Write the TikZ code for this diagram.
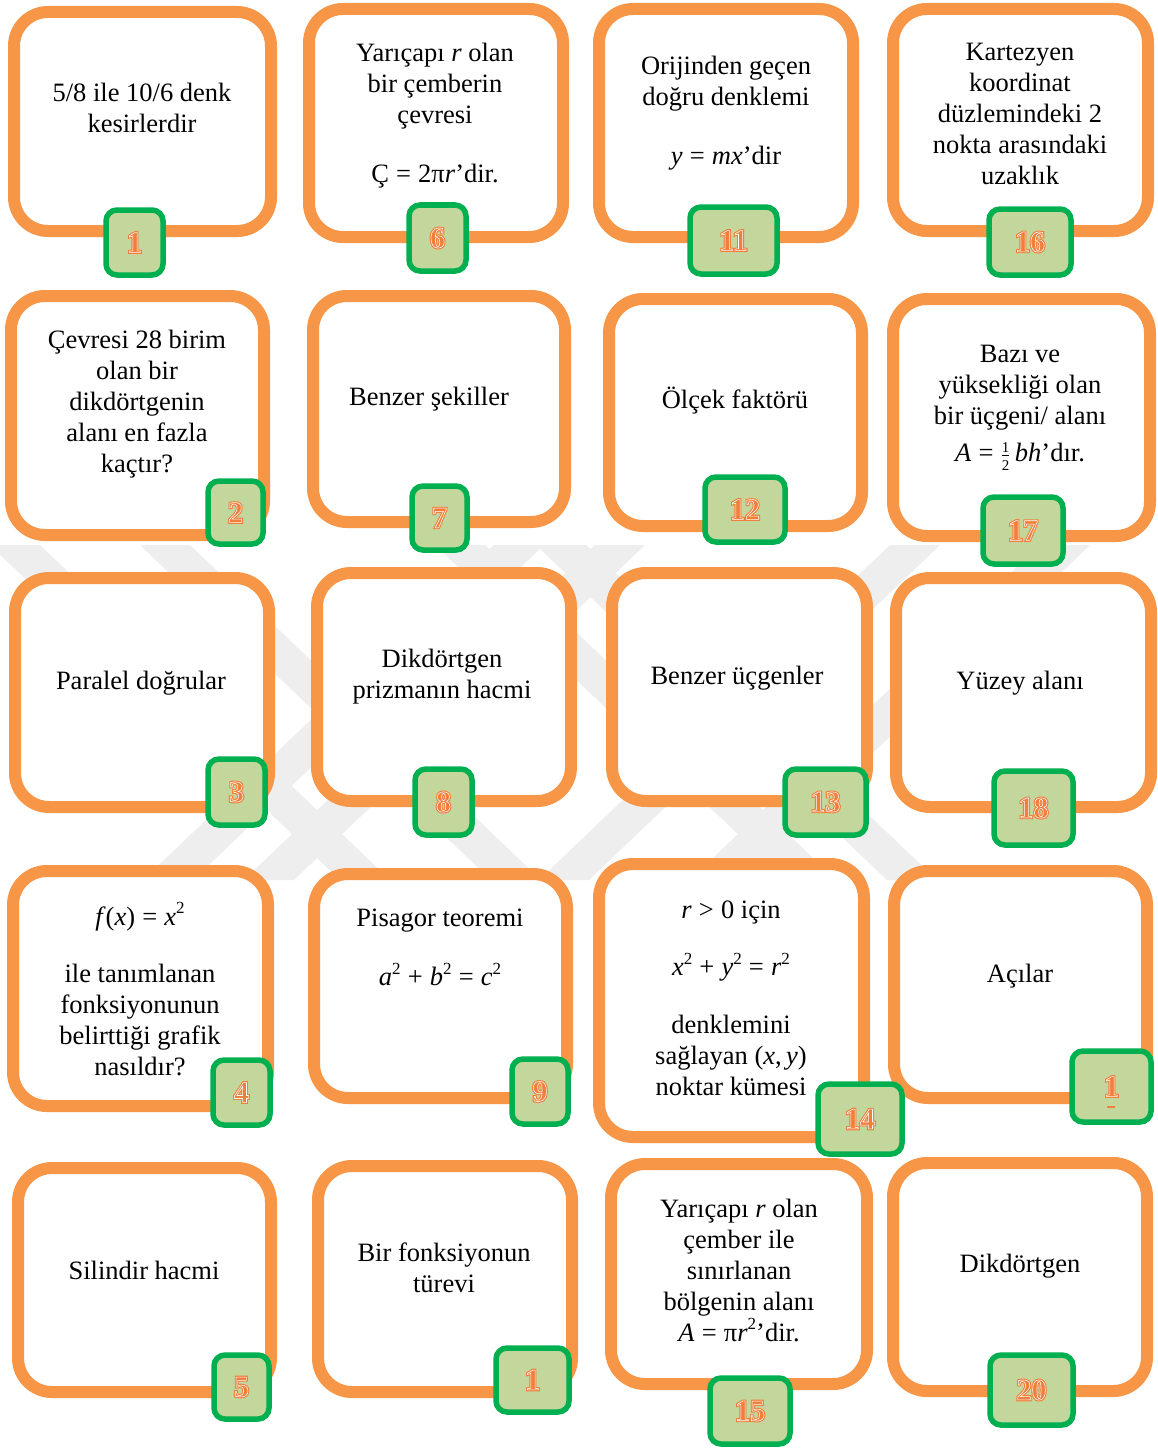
\documentclass[tikz,border=0pt]{standalone}
\usepackage{fontspec}
\setmainfont{Liberation Serif}
\usetikzlibrary{fit}

\definecolor{cardorange}{HTML}{F79646}
\definecolor{badgefill}{HTML}{C3D69B}
\definecolor{badgeline}{HTML}{00B050}
\definecolor{numorange}{HTML}{F07F3C}
\definecolor{markgray}{HTML}{EEEEEE}

\tikzset{
  card/.style={draw=cardorange, line width=12pt, fill=white,
               rounded corners=34pt, inner sep=0pt},
  badge/.style={draw=badgeline, line width=5.5pt, fill=badgefill,
                rounded corners=11pt, inner sep=0pt},
  num/.style={text=numorange, inner sep=0pt,
              font=\fontsize{30}{32}\selectfont\bfseries},
  txt/.style={align=center, inner sep=0pt,
              font=\fontsize{26.5}{31}\selectfont},
  band/.style={fill=markgray, draw=none}
}

% formula helpers set in the text face
\newcommand\vi[1]{\textit{#1}}
\newcommand\rel[1]{\hspace{0.27em}#1\hspace{0.27em}}
\newcommand\sq[1]{\raisebox{0.42em}{\fontsize{17}{17}\selectfont #1}}
\newcommand\half{$\frac{\mbox{\fontsize{15}{15}\selectfont 1}}{\mbox{\fontsize{15}{15}\selectfont 2}}$}

% inline digits: a widened orange glyph, then the glyph with a white outline
\newcommand\numfat[1]{\special{pdf:literal direct 2 Tr 2.8 w}#1\special{pdf:literal direct 0 Tr}}
\newcommand\numline[1]{\special{pdf:literal direct 2 Tr 0.55 w 1 1 1 RG}#1\special{pdf:literal direct 0 Tr}}

% card frame between two corner points (centre line of the frame)
\newcommand\cardat[5]{%
  \coordinate (#1-a) at (#2,#3);
  \coordinate (#1-b) at (#4,#5);
  \node[card, fit=(#1-a)(#1-b)] (#1) {};}
% numbered badge between two corner points
\newcommand\badgeat[6]{%
  \coordinate (#1-a) at (#2,#3);
  \coordinate (#1-b) at (#4,#5);
  \node[badge, fit=(#1-a)(#1-b)] (#1) {};
  \node[num] (#1-n) at (#1.center) {\numfat{#6}};
  \node[num] (#1-m) at (#1.center) {\numline{#6}};}
% one slanted band of the background mark: top x-range, bottom x-range
\newcommand\bandat[4]{\fill[band] (#1,545) -- (#2,545) -- (#4,880) -- (#3,880) -- cycle;}

\begin{document}
\begin{tikzpicture}[x=1pt,y=-1pt]
\useasboundingbox (0,0) rectangle (1157,1450);
\fill[white] (0,0) rectangle (1157,1450);

% ---- faint background mark behind the middle rows (symmetric about x=540)
\bandat{-10}{40}{340}{390}
\bandat{140}{190}{491}{541}
\bandat{494}{544}{143}{193}
\bandat{595}{645}{244}{294}
\bandat{1040}{1090}{690}{740}
\bandat{890}{940}{539}{589}
\bandat{536}{586}{887}{937}
\bandat{435}{485}{786}{836}

% ---- row 1
\cardat{c1}{14}{12}{271}{231}
\cardat{c6}{309}{9}{563}{237}
\cardat{c11}{599}{9}{853}{237}
\cardat{c16}{893}{9}{1148}{231}
\node[txt] (t1) at (142,108) {5/8 ile 10/6 denk\\kesirlerdir};
\node[txt] (t6) at (435,115.5) {Yarıçapı \vi{r} olan\\bir çemberin\\çevresi\\[28pt]Ç\rel{=}2π\vi{r}’dir.};
\node[txt] (t11) at (726,113) {Orijinden geçen\\doğru denklemi\\[28pt]\vi{y}\rel{=}\vi{mx}’dir};
\node[txt] (t16) at (1020,114) {Kartezyen\\koordinat\\düzlemindeki 2\\nokta arasındaki\\uzaklık};
\badgeat{b1}{106}{210}{163}{275}{1}
\badgeat{b6}{409}{205}{466}{271}{6}
\badgeat{b11}{690}{207}{777}{274}{11}
\badgeat{b16}{989}{209}{1071}{275}{16}

% ---- row 2
\cardat{c2}{11}{296}{264}{535}
\cardat{c7}{313}{296}{565}{522}
\cardat{c12}{609}{299}{862}{526}
\cardat{c17}{893}{299}{1150}{536}
\node[txt] (t2) at (137,404.5) {Çevresi 28 birim\\olan bir\\dikdörtgenin\\alanı en fazla\\kaçtır?};
\node[txt] (t7) at (429,399) {Benzer şekiller};
\node[txt] (t12) at (735,401) {Ölçek faktörü};
\node[txt] (t17) at (1020,408) {Bazı ve\\yüksekliği olan\\bir üçgeni/ alanı\\[6pt]\vi{A}\rel{=}\half\,\vi{bh}’dır.};
\badgeat{b2}{208}{481}{263}{544}{2}
\badgeat{b7}{412}{486}{467}{550}{7}
\badgeat{b12}{705}{477}{785}{542}{12}
\badgeat{b17}{983}{497}{1063}{564}{17}

% ---- row 3
\cardat{c3}{15}{578}{269}{807}
\cardat{c8}{317}{573}{571}{801}
\cardat{c13}{612}{573}{867}{801}
\cardat{c18}{896}{578}{1151}{807}
\node[txt] (t3) at (141,683) {Paralel doğrular};
\node[txt] (t8) at (442,677) {Dikdörtgen\\prizmanın hacmi};
\node[txt] (t13) at (737,678) {Benzer üçgenler};
\node[txt] (t18) at (1020,683) {Yüzey alanı};
\badgeat{b3}{208}{759}{265}{825}{3}
\badgeat{b8}{415}{769}{472}{835}{8}
\badgeat{b13}{785}{769}{866}{835}{13}
\badgeat{b18}{994}{771}{1073}{845}{18}

% ---- row 4
\cardat{c4}{13}{871}{268}{1106}
\cardat{c9}{314}{874}{567}{1098}
\cardat{c14}{599}{864}{864}{1137}
\cardat{c19}{894}{871}{1147}{1098}
\node[txt] (t4) at (140,989) {\vi{f}(\vi{x})\rel{=}\vi{x}\sq{2}\\[26pt]ile tanımlanan\\fonksiyonunun\\belirttiği grafik\\nasıldır?};
\node[txt] (t9) at (440,947) {Pisagor teoremi\\[28pt]\vi{a}\sq{2}\rel{+}\vi{b}\sq{2}\rel{=}\vi{c}\sq{2}};
\node[txt] (t14) at (731,998) {\vi{r}\rel{>}0 için\\[26pt]\vi{x}\sq{2}\rel{+}\vi{y}\sq{2}\rel{=}\vi{r}\sq{2}\\[27pt]denklemini\\sağlayan (\vi{x},\,\vi{y})\\noktar kümesi};
\node[txt] (t19) at (1020,976) {Açılar};
\badgeat{b4}{213}{1060}{270}{1125}{4}
\badgeat{b9}{512}{1059}{568}{1124}{9}
\badgeat{b14}{818}{1084}{902}{1154}{14}
\badgeat{b19}{1072}{1051}{1151}{1122}{1}
\draw[numorange, line width=2pt] (1107,1107) -- (1115,1107);

% ---- row 5
\cardat{c5}{18}{1168}{271}{1392}
\cardat{c10}{318}{1166}{572}{1392}
\cardat{c15}{611}{1164}{867}{1384}
\cardat{c20}{893}{1163}{1147}{1391}
\node[txt] (t5) at (144,1270) {Silindir hacmi};
\node[txt] (t10) at (444,1268) {Bir fonksiyonun\\türevi};
\node[txt] (t15) at (739,1270) {Yarıçapı \vi{r} olan\\çember ile\\sınırlanan\\bölgenin alanı\\\vi{A}\rel{=}π\vi{r}\sq{2}’dir.};
\node[txt] (t20) at (1020,1266) {Dikdörtgen};
\badgeat{b5}{214}{1355}{269}{1419}{5}
\badgeat{b10}{496}{1348}{569}{1412}{1}
\badgeat{b15}{710}{1378}{790}{1444}{15}
\badgeat{b20}{990}{1355}{1073}{1425}{20}
\end{tikzpicture}
\end{document}
